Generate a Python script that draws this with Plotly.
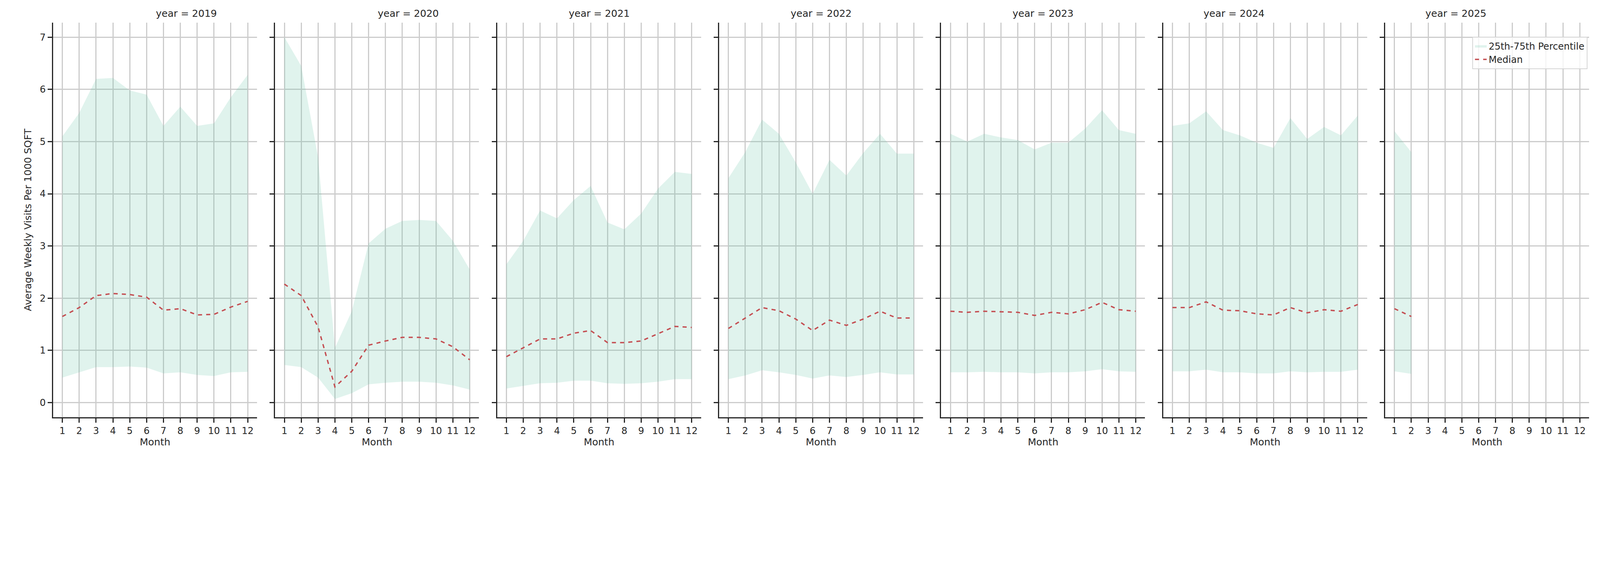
import plotly.graph_objects as go

years = [2019, 2020, 2021, 2022, 2023, 2024, 2025]
months = list(range(1, 13))
median = {
    2019: [1.65,1.82,2.05,2.09,2.07,2.02,1.77,1.80,1.68,1.69,1.83,1.94],
    2020: [2.27,2.05,1.45,0.30,0.60,1.10,1.18,1.25,1.25,1.22,1.07,0.82],
    2021: [0.88,1.05,1.22,1.22,1.33,1.38,1.15,1.15,1.18,1.32,1.46,1.44],
    2022: [1.42,1.62,1.82,1.76,1.60,1.38,1.58,1.48,1.60,1.75,1.62,1.62],
    2023: [1.75,1.73,1.75,1.74,1.73,1.67,1.73,1.70,1.78,1.92,1.78,1.75],
    2024: [1.82,1.82,1.93,1.77,1.76,1.70,1.68,1.82,1.72,1.78,1.75,1.88],
    2025: [1.80,1.65],
}
upper = {
    2019: [5.1,5.55,6.2,6.22,5.98,5.9,5.3,5.67,5.3,5.35,5.85,6.28],
    2020: [7.0,6.45,4.7,1.05,1.75,3.05,3.33,3.48,3.5,3.48,3.1,2.55],
    2021: [2.65,3.1,3.68,3.53,3.88,4.15,3.45,3.32,3.62,4.1,4.42,4.38],
    2022: [4.3,4.8,5.42,5.15,4.6,4.0,4.65,4.35,4.78,5.15,4.77,4.77],
    2023: [5.15,5.0,5.15,5.08,5.03,4.85,4.98,4.98,5.25,5.6,5.22,5.15],
    2024: [5.3,5.35,5.58,5.22,5.12,4.98,4.88,5.45,5.05,5.28,5.12,5.5],
    2025: [5.2,4.8],
}
lower = {
    2019: [0.48,0.58,0.68,0.68,0.69,0.67,0.56,0.58,0.53,0.51,0.58,0.59],
    2020: [0.72,0.68,0.48,0.07,0.18,0.35,0.38,0.40,0.40,0.38,0.33,0.25],
    2021: [0.27,0.32,0.37,0.38,0.42,0.42,0.37,0.36,0.37,0.40,0.45,0.45],
    2022: [0.45,0.52,0.62,0.58,0.53,0.46,0.52,0.49,0.53,0.58,0.54,0.54],
    2023: [0.58,0.58,0.59,0.58,0.58,0.56,0.58,0.58,0.60,0.64,0.60,0.59],
    2024: [0.60,0.60,0.63,0.58,0.58,0.56,0.56,0.60,0.58,0.59,0.59,0.63],
    2025: [0.60,0.55],
}

K = 1.28          # screen pixels per CSS pixel
M = 8             # page margin in CSS px
W = int(5250 / K - 2 * M)
H = int(1500 / K - 2 * M)
def px(v):        # screen px -> figure CSS px
    return v / K - M

FILL = "rgba(102,194,165,0.2)"
RED = "#c44e52"
FONT = "DejaVu Sans"
DARK = "#262626"
left0, pw, step = 174, 668, 727.5
top, bottom = 74, 1367
fig = go.Figure()

for i, y in enumerate(years):
    n = len(median[y])
    xs = months[:n]
    ax = "" if i == 0 else str(i + 1)
    fig.add_trace(go.Scatter(x=xs, y=lower[y], mode="lines", line=dict(width=0),
                             showlegend=False, hoverinfo="skip", xaxis="x"+ax, yaxis="y"+ax))
    fig.add_trace(go.Scatter(x=xs, y=upper[y], mode="lines", line=dict(width=0), fill="tonexty",
                             fillcolor=FILL, name="25th-75th Percentile", showlegend=(i == 6),
                             xaxis="x"+ax, yaxis="y"+ax, legendrank=2))
    fig.add_trace(go.Scatter(x=xs, y=median[y], mode="lines", line=dict(color=RED, width=3.5, dash="dash"),
                             name="Median", showlegend=(i == 6), xaxis="x"+ax, yaxis="y"+ax, legendrank=1))
    x0 = px(left0 + i * step) / W
    x1 = px(left0 + i * step + pw) / W
    common = dict(showgrid=True, gridcolor="#cccccc", gridwidth=2.5, showline=True, linecolor=DARK,
                  linewidth=3, ticks="outside", ticklen=11, tickwidth=3, tickcolor=DARK,
                  tickfont=dict(size=24, family=FONT, color=DARK), zeroline=False)
    fig.update_layout(**{
        "xaxis"+ax: dict(domain=[x0, x1], range=[0.45, 12.55], tickvals=months, anchor="y"+ax,
                         title=dict(text="Month", font=dict(size=25, family=FONT, color=DARK), standoff=4),
                         **common),
        "yaxis"+ax: dict(domain=[1-px(bottom)/H, 1-px(top)/H], range=[-0.28, 7.28], tickvals=list(range(8)),
                         anchor="x"+ax, showticklabels=(i == 0),
                         title=dict(text="Average Weekly Visits Per 1000 SQFT" if i == 0 else "",
                                    font=dict(size=25, family=FONT, color=DARK)),
                         **common),
    })
    fig.add_annotation(text=f"year = {y}", x=(x0+x1)/2, y=1-px(top)/H+0.006, xref="paper", yref="paper",
                       showarrow=False, yanchor="bottom", font=dict(size=25, family=FONT, color=DARK))

fig.update_layout(width=W, height=H, plot_bgcolor="white", paper_bgcolor="white",
                  margin=dict(l=0, r=0, t=0, b=0),
                  legend=dict(x=px(left0 + 6*step + pw)/W - 0.001, y=1-px(120)/H, xanchor="right", yanchor="top",
                              bgcolor="rgba(255,255,255,0.8)", bordercolor="#d5d5d5", borderwidth=2,
                              font=dict(size=24, family=FONT, color=DARK)))
fig.write_html("out.html")
